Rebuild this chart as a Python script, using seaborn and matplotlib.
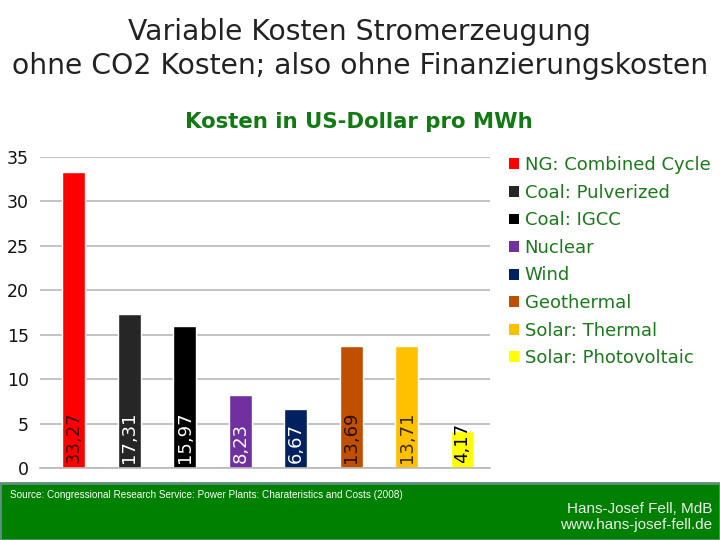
import matplotlib
matplotlib.use("Agg")
import matplotlib.pyplot as plt
import seaborn as sns
import pandas as pd
from matplotlib.patches import Patch, Rectangle

categories = ["NG: Combined Cycle", "Coal: Pulverized", "Coal: IGCC", "Nuclear",
              "Wind", "Geothermal", "Solar: Thermal", "Solar: Photovoltaic"]
values = [33.27, 17.31, 15.97, 8.23, 6.67, 13.69, 13.71, 4.17]
value_labels = ["33,27", "17,31", "15,97", "8,23", "6,67", "13,69", "13,71", "4,17"]
colors = ["#FF0000", "#262626", "#000000", "#7030A0", "#002060", "#C05000", "#FFC000", "#FFFF00"]
label_colors = ["#3a0000", "white", "white", "white", "white", "#2a1000", "#3a2a00", "black"]
yticks = [0, 5, 10, 15, 20, 25, 30, 35]

sns.set_theme(style="white")
plt.rcParams['font.family'] = ['DejaVu Sans']

df = pd.DataFrame({"cat": categories, "val": values})

fig = plt.figure(figsize=(7.2, 5.4), dpi=100)
fig.patch.set_facecolor("white")
ax = fig.add_axes([40/720, 1-468/540, 450/720, (468-157)/540])

sns.barplot(data=df, x="cat", y="val", hue="cat", palette=colors, order=categories,
            hue_order=categories, legend=False, width=0.42, saturation=1, ax=ax, dodge=False)

ax.set_xlim(-0.61, 7.5)
ax.set_ylim(0, 35)
ax.set_yticks(yticks)
ax.set_yticklabels([str(t) for t in yticks], fontsize=12.5, color="#111111")
ax.tick_params(axis="y", length=0, pad=8)
ax.set_xticks([])
ax.set_xlabel("")
ax.set_ylabel("")
ax.yaxis.grid(True, color="#b8b8b8", linewidth=1.2)
ax.set_axisbelow(True)
for s in ["top", "right", "left"]:
    ax.spines[s].set_visible(False)
ax.spines["bottom"].set_color("#b8b8b8")
ax.spines["bottom"].set_linewidth(1.2)

for i, (lab, lc) in enumerate(zip(value_labels, label_colors)):
    ax.text(i, 0.6, lab, rotation=90, ha="center", va="bottom", fontsize=13, color=lc)

handles = [Patch(facecolor=c, edgecolor="none") for c in colors]
fig.legend(handles, categories, loc="upper left", bbox_to_anchor=(502/720, 1-149/540),
           frameon=False, fontsize=13, labelcolor="#1a7a1a", handlelength=0.55,
           handleheight=0.55, handletextpad=0.3, labelspacing=0.53, borderaxespad=0)

fig.text(0.5, 1-32/540, "Variable Kosten Stromerzeugung", ha="center", va="center",
         fontsize=20.3, color="#222222")
fig.text(0.5, 1-66/540, "ohne CO2 Kosten; also ohne Finanzierungskosten", ha="center",
         va="center", fontsize=20.3, color="#222222")
fig.text(359/720, 1-122/540, "Kosten in US-Dollar pro MWh", ha="center", va="center",
         fontsize=15.3, fontweight="bold", color="#127a12")

fig.patches.append(Rectangle((0, 0), 1, 57/540, transform=fig.transFigure,
                             facecolor="#008000", edgecolor="#5f8f7f", linewidth=2, zorder=0))
fig.text(10/720, 1-495/540, "Source: Congressional Research Service: Power Plants: Charateristics and Costs (2008)",
         ha="left", va="center", fontsize=7.2, color="white", family=["Liberation Sans"])
fig.text(712/720, 1-509/540, "Hans-Josef Fell, MdB", ha="right", va="center",
         fontsize=11, color="#eeeeee", family=["Liberation Sans"])
fig.text(712/720, 1-525/540, "www.hans-josef-fell.de", ha="right", va="center",
         fontsize=11, color="#eeeeee", family=["Liberation Sans"])

fig.savefig("out.png", dpi=100)
